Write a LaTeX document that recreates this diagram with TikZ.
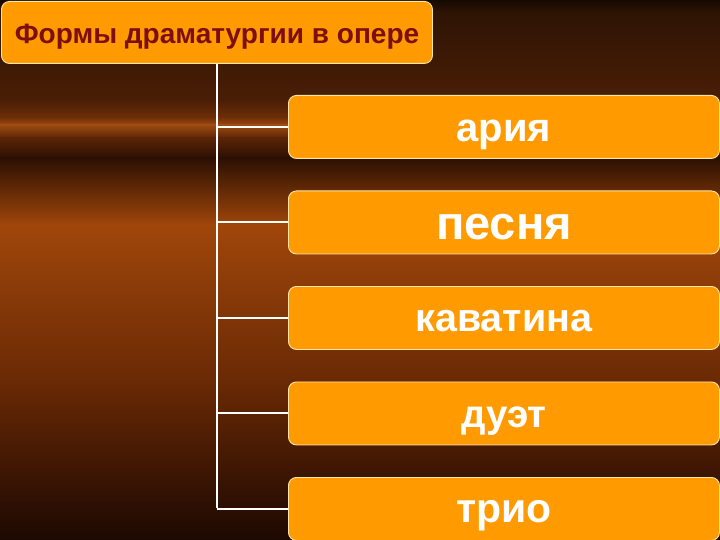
\documentclass[tikz,border=0pt]{standalone}
\usepackage{fontspec}
\setmainfont{Liberation Sans}
\definecolor{boxfill}{HTML}{FF9A00}
\definecolor{boxline}{HTML}{FFE6A6}
\definecolor{titletext}{HTML}{7C0E0E}
\definecolor{bgA}{HTML}{140802}
\definecolor{bgB}{HTML}{2E1404}
\definecolor{bgC}{HTML}{4A1E06}
\definecolor{bgD}{HTML}{6E2E08}
\definecolor{bgE}{HTML}{9E4A12}
\definecolor{bgF}{HTML}{5A2406}
\definecolor{bgG}{HTML}{2C1003}
\definecolor{bgH}{HTML}{A0460A}
\definecolor{bgI}{HTML}{6A2A05}
\definecolor{bgJ}{HTML}{3E1603}
\definecolor{bgK}{HTML}{1C0902}
\tikzset{
  formbox/.style={draw=boxline, line width=0.9pt, fill=boxfill, rounded corners=8pt,
    minimum width=431pt, minimum height=63pt, anchor=north west, inner sep=0pt,
    text=white, font=\bfseries\fontsize{40}{40}\selectfont,
    text height=34pt, text depth=4pt},
  titlebox/.style={draw=boxline, line width=0.9pt, fill=boxfill, rounded corners=8pt,
    minimum width=431pt, minimum height=62pt, anchor=north west, inner sep=0pt,
    text=titletext, font=\bfseries\fontsize{28}{28}\selectfont,
    text height=24pt, text depth=2pt},
  conn/.style={draw=white, line width=2pt}
}
\begin{document}
\begin{tikzpicture}[x=1pt,y=-1pt]
\useasboundingbox (0,0) rectangle (720,540);
\clip (0,0) rectangle (720,540);
% background
\shade[top color=bgA, bottom color=bgB] (0,-1) rectangle (720,12.5);
\shade[top color=bgB, bottom color=bgC] (0,12) rectangle (720,100.5);
\shade[top color=bgC, bottom color=bgD] (0,100) rectangle (720,117.5);
\shade[top color=bgD, bottom color=bgE] (0,117) rectangle (720,125.5);
\shade[top color=bgE, bottom color=bgF] (0,125) rectangle (720,138.5);
\shade[top color=bgF, bottom color=bgG] (0,138) rectangle (720,158.5);
\shade[top color=bgG, bottom color=bgH] (0,158) rectangle (720,225.5);
\shade[top color=bgH, bottom color=bgI] (0,225) rectangle (720,380.5);
\shade[top color=bgI, bottom color=bgJ] (0,380) rectangle (720,470.5);
\shade[top color=bgJ, bottom color=bgK] (0,470) rectangle (720,541);
% title
\node[titlebox] (title) at (1,1) {Формы драматургии в опере\hspace{14pt}};
% boxes
\node[formbox] (b1) at (288,95) {ария};
\node[formbox, font=\bfseries\fontsize{47}{47}\selectfont, text height=37pt, text depth=2pt] (b2) at (288,190.5) {песня};
\node[formbox, font=\bfseries\fontsize{39.5}{39.5}\selectfont, text height=32pt, text depth=4pt] (b3) at (288,286) {каватина};
\node[formbox, font=\bfseries\fontsize{38.5}{38.5}\selectfont, text height=32pt, text depth=4pt] (b4) at (288,381.5) {дуэт};
\node[formbox, font=\bfseries\fontsize{41}{41}\selectfont, text height=31pt, text depth=4pt] (b5) at (288,477) {трио};
% connectors
\coordinate (j) at (216.5,508);
\draw[conn] (title.south -| j) -- (j);
\foreach \b in {b1,b2,b3,b4,b5}{
  \draw[conn] (\b.west -| j) -- (\b.west);
}
\end{tikzpicture}
\end{document}
